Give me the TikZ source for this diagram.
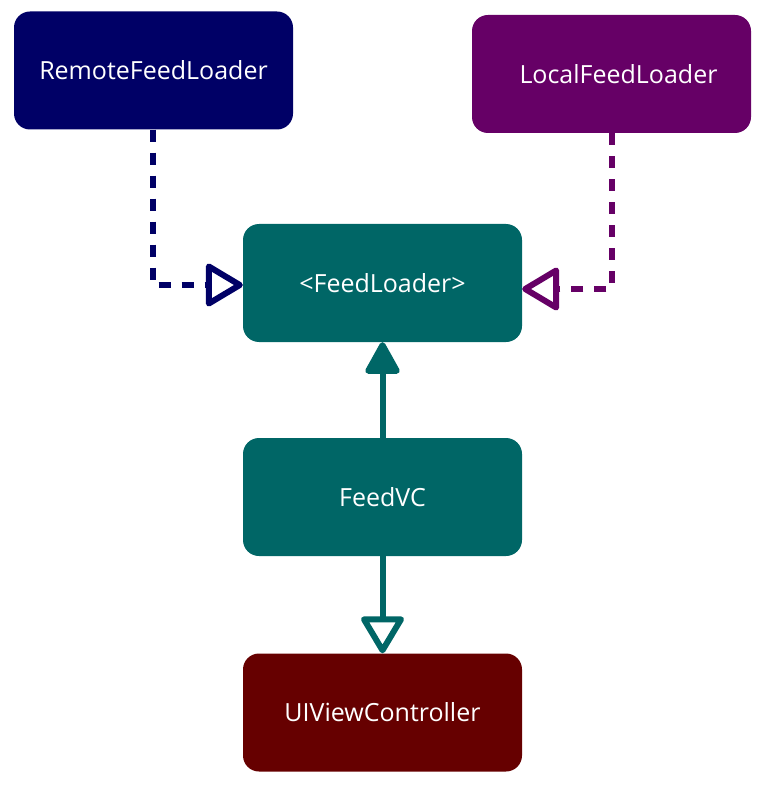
\documentclass[tikz,border=0pt]{standalone}
\usepackage{fontspec}
\setmainfont{Open Sans}
\usetikzlibrary{arrows.meta}
\definecolor{navyc}{HTML}{000066}
\definecolor{plumc}{HTML}{660066}
\definecolor{tealc}{HTML}{006666}
\definecolor{maroonc}{HTML}{660000}
\tikzset{
  box/.style={rounded corners=16pt, minimum width=279pt, minimum height=118pt,
    inner sep=0pt, text=white, font=\fontsize{25}{28}\selectfont},
  link/.style={line width=6pt},
  dashlink/.style={link, dash pattern=on 12pt off 11pt},
  openhead/.style={-{Triangle[open, length=40pt, width=46pt, line width=6pt, round]}},
  fullhead/.style={-{Triangle[length=35pt, width=37pt, round]}},
}
\begin{document}
\begin{tikzpicture}[x=1pt, y=-1pt]
  \useasboundingbox (0,0) rectangle (766,786);
  \node[box, fill=navyc]   (remote) at (153.5,70.5)  {RemoteFeedLoader};
  \node[box, fill=plumc]   (local)  at (611.5,74)    {\hspace*{14pt}LocalFeedLoader};
  \node[box, fill=tealc]   (loader) at (382.5,283)   {<FeedLoader>};
  \node[box, fill=tealc]   (vc)     at (382.5,497)   {FeedVC};
  \node[box, fill=maroonc] (ui)     at (382.5,712.5) {UIViewController};

  \draw[dashlink, navyc, openhead]
    (remote.south -| 153,0) |- ([yshift=-2pt]loader.west);
  \draw[dashlink, plumc, openhead]
    (local.south) |- ([yshift=-6pt]loader.east);
  \draw[link, tealc, fullhead] (vc.north) -- (loader.south);
  \draw[link, tealc, openhead] (vc.south) -- (ui.north);
\end{tikzpicture}
\end{document}
